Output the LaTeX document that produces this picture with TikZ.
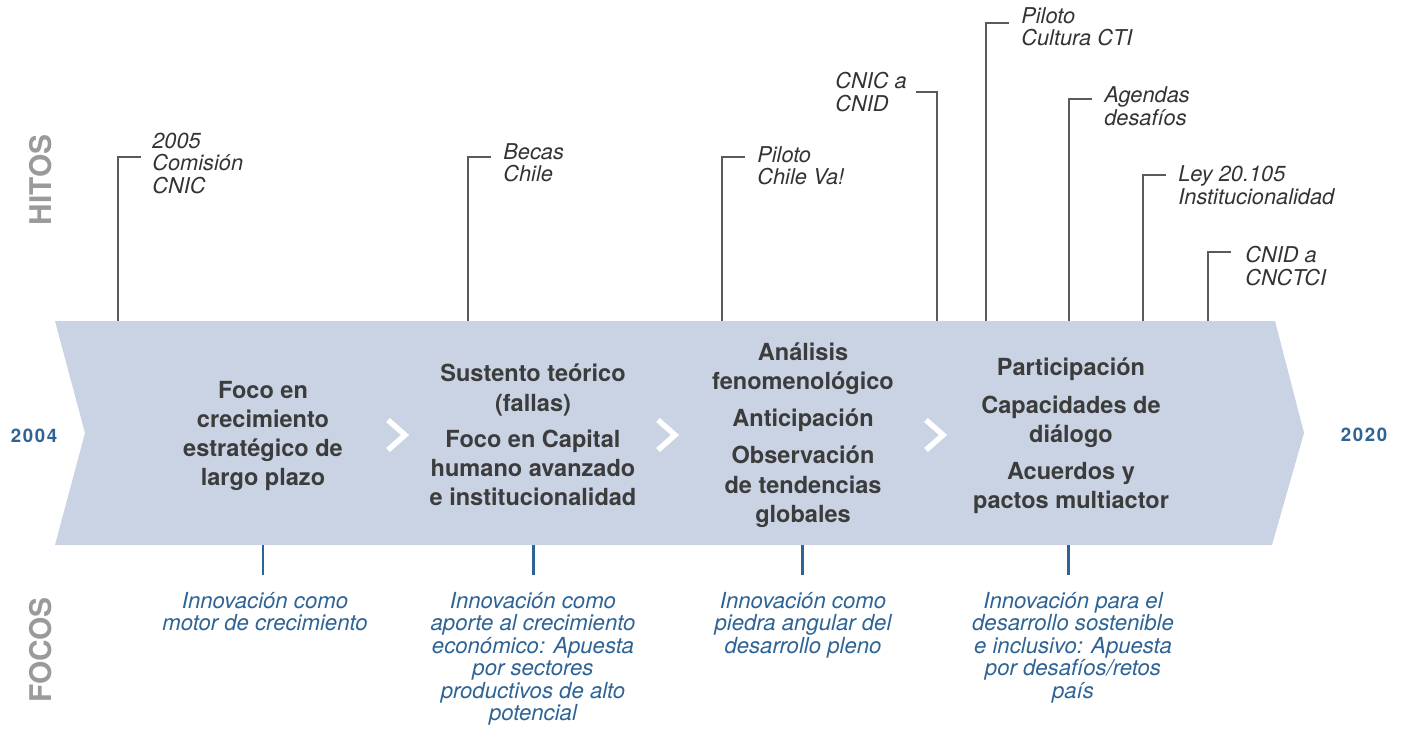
\documentclass[tikz,border=0pt]{standalone}
\usepackage{fontspec}
\setmainfont{TeX Gyre Heros}
\definecolor{banda}{HTML}{C9D3E3}
\definecolor{textogris}{HTML}{3C3C3C}
\definecolor{hitogris}{HTML}{333333}
\definecolor{lineagris}{HTML}{5A5A5A}
\definecolor{etiqgris}{HTML}{9A9A9A}
\definecolor{azul}{HTML}{2E6395}
\tikzset{
  bloque/.style={align=center, inner sep=0pt, text=textogris,
    font=\fontsize{13.4}{16.6}\selectfont\bfseries},
  hito/.style={align=left, anchor=west, inner sep=0pt, text=hitogris,
    font=\fontsize{12.4}{12.8}\selectfont\itshape},
  foco/.style={align=center, anchor=north, inner sep=0pt, text=azul,
    font=\fontsize{12.6}{12.8}\selectfont\itshape},
  guia/.style={draw=lineagris, line width=0.85pt},
  marca/.style={draw=azul, line width=1.7pt},
  seccion/.style={rotate=90, inner sep=0pt, text=etiqgris,
    font=\fontsize{17}{17}\selectfont\bfseries},
  anio/.style={inner sep=0pt, text=azul,
    font=\fontsize{10.6}{10.6}\selectfont\bfseries\addfontfeatures{LetterSpace=9}},
}
\begin{document}
\begin{tikzpicture}[x=0.02cm, y=-0.02cm]
  \useasboundingbox (0,0) rectangle (1408,729);
  \fill [banda] (55,321) -- (1275,321) -- (1304,433) -- (1272,545) -- (55,545) -- (85,433) -- cycle;
  \foreach \x in {388,658,926}
    \draw [white, line width=0.11cm] (\x,420) -- (\x+17,435) -- (\x,450);
  \node [seccion] (hitos) at (41,180) {HITOS};
  \node [seccion] (focos) at (41,650) {FOCOS};
  \node [anio] (inicio) at (34,436) {2004};
  \node [anio] (fin) at (1364,435) {2020};
  \node [bloque] (b1) at (263,436) {Foco en\\crecimiento\\estratégico de\\largo plazo};
  \node [bloque] (b2) at (533,435) {Sustento teórico\\(fallas)\\[0.14cm]Foco en Capital\\humano avanzado\\e institucionalidad};
  \node [bloque] (b3) at (803,435) {Análisis\\fenomenológico\\[0.16cm]Anticipación\\[0.16cm]Observación\\de tendencias\\globales};
  \node [bloque] (b4) at (1071,436) {Participación\\[0.16cm]Capacidades de\\diálogo\\[0.16cm]Acuerdos y\\pactos multiactor};
  \foreach \bx/\ty/\ex [count=\i] in {118/157/141, 468/157/491, 722/157/745, 937/92/916, 986/23/1009, 1069/99/1092, 1143/175/1166, 1208/252/1231}{
    \coordinate (p\i) at (\bx,321);
    \coordinate (q\i) at (\ex,\ty);
    \draw [guia] (p\i) |- (q\i);
  }
  \node [hito] (h1) at (152,163) {2005\\Comisión\\CNIC};
  \node [hito] (h2) at (503,163) {Becas\\Chile};
  \node [hito] (h3) at (757,166) {Piloto\\Chile Va!};
  \node [hito] (h4) at (835,92) {CNIC a\\CNID};
  \node [hito] (h5) at (1021,27) {Piloto\\Cultura CTI};
  \node [hito] (h6) at (1104,106) {Agendas\\desafíos};
  \node [hito] (h7) at (1178,185) {Ley 20.105\\Institucionalidad};
  \node [hito] (h8) at (1245,266) {CNID a\\CNCTCI};
  \foreach \x [count=\i] in {263,533,802,1068}{
    \coordinate (m\i) at (\x,545);
    \coordinate (n\i) at (\x,575);
    \draw [marca] (m\i) -- (n\i);
  }
  \node [foco] (f1) at (265,592) {Innovación como\\motor de crecimiento};
  \node [foco] (f2) at (533,592) {Innovación como\\aporte al crecimiento\\económico: Apuesta\\por sectores\\productivos de alto\\potencial};
  \node [foco] (f3) at (803,592) {Innovación como\\piedra angular del\\desarrollo pleno};
  \node [foco] (f4) at (1073,592) {Innovación para el\\desarrollo sostenible\\e inclusivo: Apuesta\\por desafíos/retos\\país};
\end{tikzpicture}
\end{document}
